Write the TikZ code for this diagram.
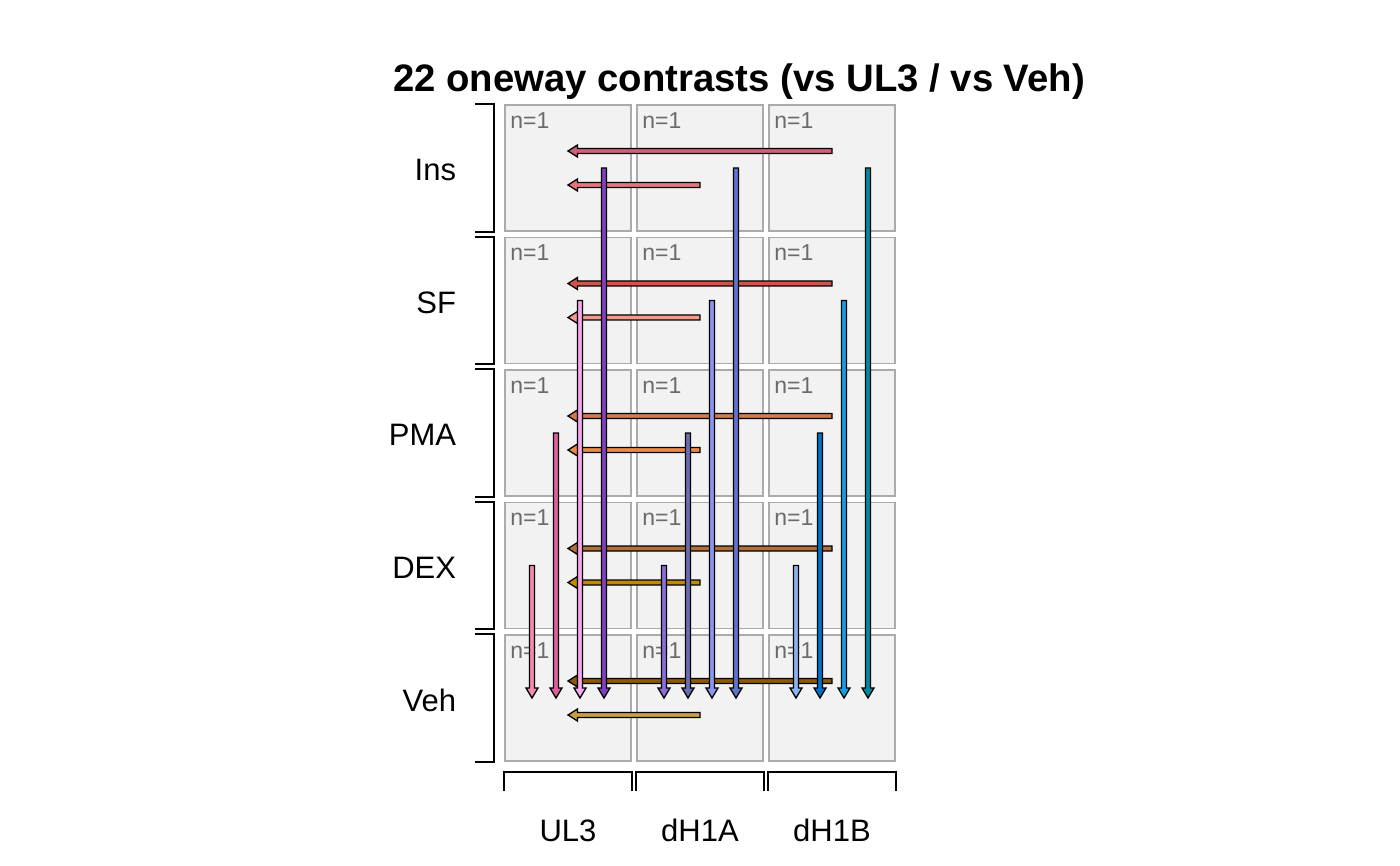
\documentclass[tikz,border=0pt]{standalone}
\usepackage{fontspec}
\setmainfont{Liberation Sans}
\usepackage{tikz}
\usetikzlibrary{calc}

% cell and bracket colours
\definecolor{cellfill}{HTML}{F2F2F2}
\definecolor{cellline}{HTML}{ABABAB}
\definecolor{ngray}{HTML}{6B6B6B}
% vs UL3 (horizontal)
\definecolor{hInsB}{HTML}{C9637A}
\definecolor{hInsA}{HTML}{E8737F}
\definecolor{hSFB}{HTML}{D0544C}
\definecolor{hSFA}{HTML}{F59A88}
\definecolor{hPMAB}{HTML}{D07A4E}
\definecolor{hPMAA}{HTML}{E88B4A}
\definecolor{hDEXB}{HTML}{B07038}
\definecolor{hDEXA}{HTML}{C08A00}
\definecolor{hVehB}{HTML}{8C5A00}
\definecolor{hVehA}{HTML}{C8A040}
% vs Veh (vertical)
\definecolor{vUDEX}{HTML}{F58AB0}
\definecolor{vUPMA}{HTML}{E0609E}
\definecolor{vUSF}{HTML}{F5A8F0}
\definecolor{vUIns}{HTML}{8040C0}
\definecolor{vADEX}{HTML}{8A6FD8}
\definecolor{vAPMA}{HTML}{6C6CB0}
\definecolor{vASF}{HTML}{8C96F0}
\definecolor{vAIns}{HTML}{6074CC}
\definecolor{vBDEX}{HTML}{8AB4F0}
\definecolor{vBPMA}{HTML}{0072C8}
\definecolor{vBSF}{HTML}{12A0E4}
\definecolor{vBIns}{HTML}{008BA0}

% fat arrows: colour, tail, tip
\newcommand{\harr}[3]{%
  \draw[fatline, fill=#1] ($(#2)+(0,2.5)$) -- ($(#3)+(9.5,2.5)$) -- ($(#3)+(9.5,6)$) -- (#3)
    -- ($(#3)+(9.5,-6)$) -- ($(#3)+(9.5,-2.5)$) -- ($(#2)+(0,-2.5)$) -- cycle;}
\newcommand{\varr}[3]{%
  \draw[fatline, fill=#1] ($(#2)+(-2.5,0)$) -- ($(#3)+(-2.5,-10)$) -- ($(#3)+(-6,-10)$) -- (#3)
    -- ($(#3)+(6,-10)$) -- ($(#3)+(2.5,-10)$) -- ($(#2)+(2.5,0)$) -- cycle;}

\begin{document}
\begin{tikzpicture}[
    x=1pt, y=-1pt,
    cell/.style    ={draw=cellline, fill=cellfill, line width=1.5pt, minimum width=126pt, minimum height=126pt, inner sep=0pt},
    ncount/.style  ={anchor=base west, text=ngray, font=\fontsize{23}{26}\selectfont, inner sep=0pt},
    rlabel/.style  ={anchor=east, font=\fontsize{31}{36}\selectfont, inner sep=0pt},
    clabel/.style  ={font=\fontsize{31}{36}\selectfont, inner sep=0pt},
    bracket/.style ={draw=black, line width=1.8pt},
    fatline/.style ={draw=black, line width=1.3pt, line join=miter},
  ]
  \useasboundingbox (0,0) rectangle (1400,866);
  \node[font=\fontsize{38.3}{43}\selectfont\bfseries, anchor=base] (title) at (739,92) {22 oneway contrasts (vs UL3 / vs Veh)};

  % grid of cells
  \node[cell] (insU) at (568,168) {};
  \node[cell] (insA) at (700,168) {};
  \node[cell] (insB) at (832,168) {};
  \node[cell] (sfU)  at (568,300.5) {};
  \node[cell] (sfA)  at (700,300.5) {};
  \node[cell] (sfB)  at (832,300.5) {};
  \node[cell] (pmaU) at (568,433) {};
  \node[cell] (pmaA) at (700,433) {};
  \node[cell] (pmaB) at (832,433) {};
  \node[cell] (dexU) at (568,565.5) {};
  \node[cell] (dexA) at (700,565.5) {};
  \node[cell] (dexB) at (832,565.5) {};
  \node[cell] (vehU) at (568,698) {};
  \node[cell] (vehA) at (700,698) {};
  \node[cell] (vehB) at (832,698) {};

  \node[ncount] (n-insU) at ([xshift=6pt,yshift=-24pt]insU.north west) {n=1};
  \node[ncount] (n-insA) at ([xshift=6pt,yshift=-24pt]insA.north west) {n=1};
  \node[ncount] (n-insB) at ([xshift=6pt,yshift=-24pt]insB.north west) {n=1};
  \node[ncount] (n-sfU)  at ([xshift=6pt,yshift=-24pt]sfU.north west) {n=1};
  \node[ncount] (n-sfA)  at ([xshift=6pt,yshift=-24pt]sfA.north west) {n=1};
  \node[ncount] (n-sfB)  at ([xshift=6pt,yshift=-24pt]sfB.north west) {n=1};
  \node[ncount] (n-pmaU) at ([xshift=6pt,yshift=-24pt]pmaU.north west) {n=1};
  \node[ncount] (n-pmaA) at ([xshift=6pt,yshift=-24pt]pmaA.north west) {n=1};
  \node[ncount] (n-pmaB) at ([xshift=6pt,yshift=-24pt]pmaB.north west) {n=1};
  \node[ncount] (n-dexU) at ([xshift=6pt,yshift=-24pt]dexU.north west) {n=1};
  \node[ncount] (n-dexA) at ([xshift=6pt,yshift=-24pt]dexA.north west) {n=1};
  \node[ncount] (n-dexB) at ([xshift=6pt,yshift=-24pt]dexB.north west) {n=1};
  \node[ncount] (n-vehU) at ([xshift=6pt,yshift=-24pt]vehU.north west) {n=1};
  \node[ncount] (n-vehA) at ([xshift=6pt,yshift=-24pt]vehA.north west) {n=1};
  \node[ncount] (n-vehB) at ([xshift=6pt,yshift=-24pt]vehB.north west) {n=1};

  % row brackets and labels
  \draw[bracket] ([xshift=-29pt]insU.north west) -- ([xshift=-10pt]insU.north west) -- ([xshift=-10pt]insU.south west) -- ([xshift=-29pt]insU.south west);
  \draw[bracket] ([xshift=-29pt]sfU.north west)  -- ([xshift=-10pt]sfU.north west)  -- ([xshift=-10pt]sfU.south west)  -- ([xshift=-29pt]sfU.south west);
  \draw[bracket] ([xshift=-29pt]pmaU.north west) -- ([xshift=-10pt]pmaU.north west) -- ([xshift=-10pt]pmaU.south west) -- ([xshift=-29pt]pmaU.south west);
  \draw[bracket] ([xshift=-29pt]dexU.north west) -- ([xshift=-10pt]dexU.north west) -- ([xshift=-10pt]dexU.south west) -- ([xshift=-29pt]dexU.south west);
  \draw[bracket] ([xshift=-29pt]vehU.north west) -- ([xshift=-10pt]vehU.north west) -- ([xshift=-10pt]vehU.south west) -- ([xshift=-29pt]vehU.south west);
  \node[rlabel] (l-ins) at ([xshift=-48pt,yshift=-2pt]insU.west) {Ins};
  \node[rlabel] (l-sf)  at ([xshift=-48pt,yshift=-2pt]sfU.west)  {SF};
  \node[rlabel] (l-pma) at ([xshift=-48pt,yshift=-2pt]pmaU.west) {PMA};
  \node[rlabel] (l-dex) at ([xshift=-48pt,yshift=-2pt]dexU.west) {DEX};
  \node[rlabel] (l-veh) at ([xshift=-48pt,yshift=-2pt]vehU.west) {Veh};

  % column brackets and labels
  \draw[bracket] ([yshift=-29pt]vehU.south west) -- ([yshift=-10pt]vehU.south west) -- ([yshift=-10pt]vehU.south east) -- ([yshift=-29pt]vehU.south east);
  \draw[bracket] ([yshift=-29pt]vehA.south west) -- ([yshift=-10pt]vehA.south west) -- ([yshift=-10pt]vehA.south east) -- ([yshift=-29pt]vehA.south east);
  \draw[bracket] ([yshift=-29pt]vehB.south west) -- ([yshift=-10pt]vehB.south west) -- ([yshift=-10pt]vehB.south east) -- ([yshift=-29pt]vehB.south east);
  \node[clabel] (l-ul3)  at ([yshift=-69pt]vehU.south) {UL3};
  \node[clabel] (l-dh1a) at ([yshift=-69pt]vehA.south) {dH1A};
  \node[clabel] (l-dh1b) at ([yshift=-69pt]vehB.south) {dH1B};

  % vs UL3
  \harr{hInsB}{[yshift=17pt]insB.center}{[yshift=17pt]insU.center}
  \harr{hInsA}{[yshift=-17pt]insA.center}{[yshift=-17pt]insU.center}
  \harr{hSFB}{[yshift=17pt]sfB.center}{[yshift=17pt]sfU.center}
  \harr{hSFA}{[yshift=-17pt]sfA.center}{[yshift=-17pt]sfU.center}
  \harr{hPMAB}{[yshift=17pt]pmaB.center}{[yshift=17pt]pmaU.center}
  \harr{hPMAA}{[yshift=-17pt]pmaA.center}{[yshift=-17pt]pmaU.center}
  \harr{hDEXB}{[yshift=17pt]dexB.center}{[yshift=17pt]dexU.center}
  \harr{hDEXA}{[yshift=-17pt]dexA.center}{[yshift=-17pt]dexU.center}
  \harr{hVehB}{[yshift=17pt]vehB.center}{[yshift=17pt]vehU.center}
  \harr{hVehA}{[yshift=-17pt]vehA.center}{[yshift=-17pt]vehU.center}

  % vs Veh
  \varr{vUDEX}{[xshift=-36pt]dexU.center}{[xshift=-36pt]vehU.center}
  \varr{vUPMA}{[xshift=-12pt]pmaU.center}{[xshift=-12pt]vehU.center}
  \varr{vUSF}{[xshift=12pt]sfU.center}{[xshift=12pt]vehU.center}
  \varr{vUIns}{[xshift=36pt]insU.center}{[xshift=36pt]vehU.center}
  \varr{vADEX}{[xshift=-36pt]dexA.center}{[xshift=-36pt]vehA.center}
  \varr{vAPMA}{[xshift=-12pt]pmaA.center}{[xshift=-12pt]vehA.center}
  \varr{vASF}{[xshift=12pt]sfA.center}{[xshift=12pt]vehA.center}
  \varr{vAIns}{[xshift=36pt]insA.center}{[xshift=36pt]vehA.center}
  \varr{vBDEX}{[xshift=-36pt]dexB.center}{[xshift=-36pt]vehB.center}
  \varr{vBPMA}{[xshift=-12pt]pmaB.center}{[xshift=-12pt]vehB.center}
  \varr{vBSF}{[xshift=12pt]sfB.center}{[xshift=12pt]vehB.center}
  \varr{vBIns}{[xshift=36pt]insB.center}{[xshift=36pt]vehB.center}
\end{tikzpicture}
\end{document}
